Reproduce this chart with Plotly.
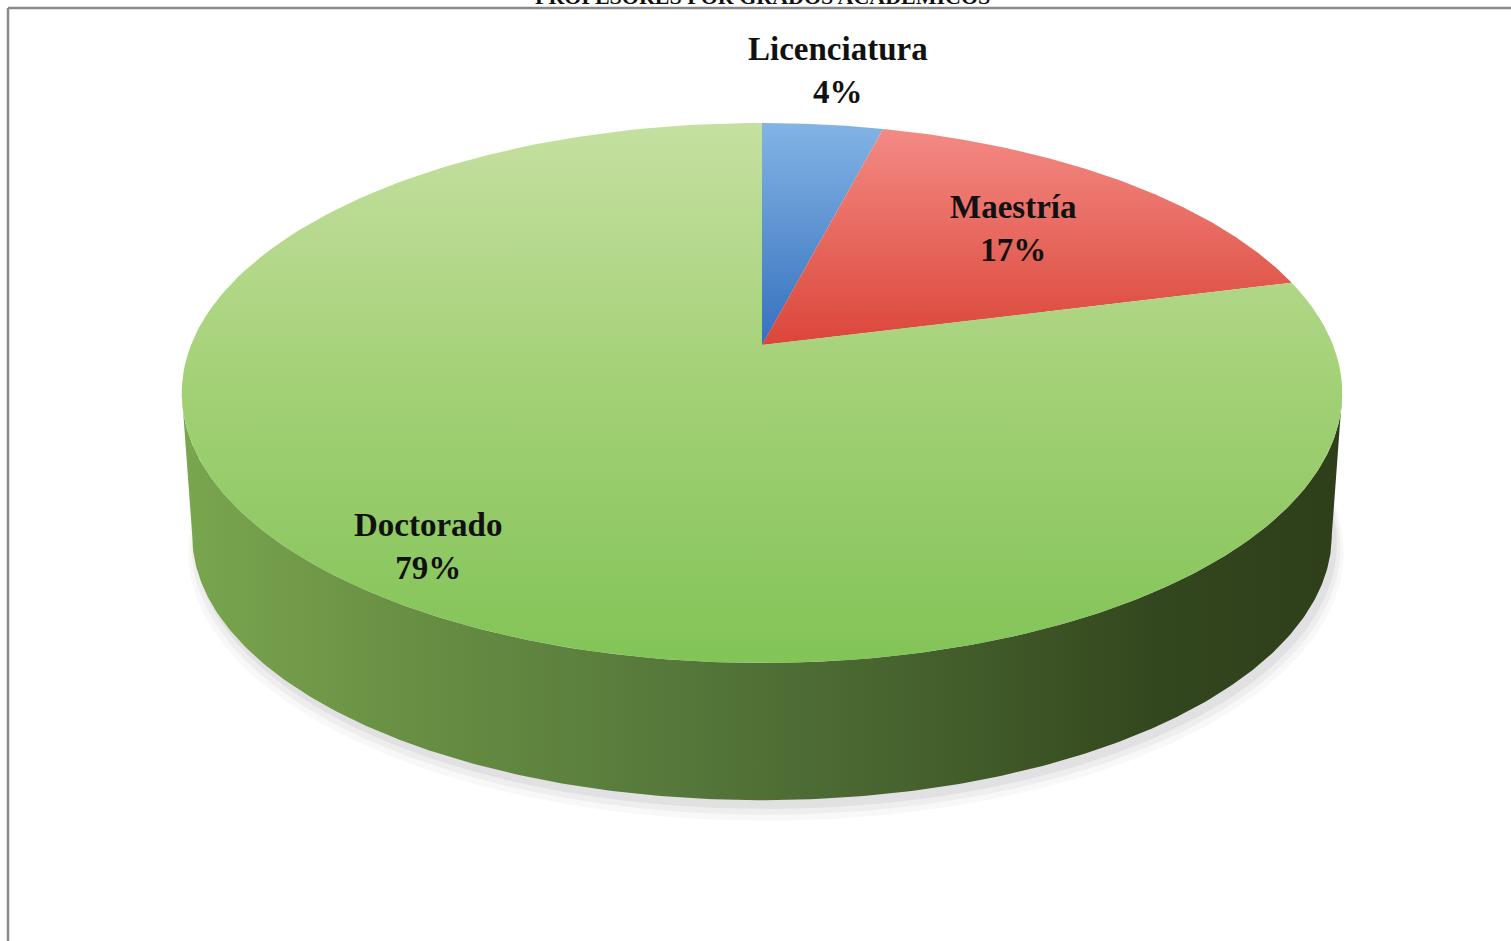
import numpy as np
import plotly.graph_objects as go

# ---- data ----
categories = ["Licenciatura", "Maestría", "Doctorado"]
percent = [4, 17, 79]
title_text = "PROFESORES POR GRADOS ACADÉMICOS"

# ---- styles / geometry (not data) ----
W, H = 1511, 941
CX, CY = 762, 345          # pie apex on screen (pixels)
A, B, K = 571, 261.5, 0.1777  # perspective ellipse parameters
DEPTH = 143                 # cylinder thickness offset
SHRINK = 0.982              # bottom disk slightly smaller (perspective)
face_colors = [
    [[0, "#82B4E4"], [1, "#3670BE"]],
    [[0, "#F38A84"], [1, "#DB4639"]],
    [[0, "#C5E0A0"], [0.5, "#A2D075"], [1, "#82C457"]],
]
side_scale = [[0, "#7AA64F"], [0.2, "#688F43"], [0.45, "#54763A"],
              [0.65, "#45602C"], [0.85, "#33471E"], [1, "#2E3F1A"]]
label_pos = {"Licenciatura": (838, 70), "Maestría": (1013, 228), "Doctorado": (428, 546)}
FONT = "Liberation Serif"


def proj(theta, r=1.0, a=A, b=B, cx=CX, cy=CY):
    X = r * np.sin(theta)
    Y = r * np.cos(theta)
    d = 1 + K * Y
    return cx + a * X / d, cy - b * Y / d


fig = go.Figure()

# shadow beneath the pie
theta_all = np.linspace(0, 2 * np.pi, 400)
for i, (grow, dy, op) in enumerate([(1.014, 16, 0.035), (1.008, 12, 0.05), (1.002, 8, 0.07)]):
    sx, sy = proj(theta_all, a=A * SHRINK * grow, b=B * SHRINK * grow, cy=CY + DEPTH + dy)
    sx = sx + 4
    fig.add_trace(go.Scatter(x=sx, y=sy, mode="lines", fill="toself",
                             fillcolor=f"rgba(60,60,70,{op})",
                             line=dict(width=0, color="rgba(0,0,0,0)"),
                             hoverinfo="skip", showlegend=False))

# side wall (visible front part)
t_r = np.arccos(-K)
t_side = np.linspace(t_r, 2 * np.pi - t_r, 300)
tx, ty = proj(t_side)
bx, by = proj(t_side[::-1], a=A * SHRINK, b=B * SHRINK, cy=CY + DEPTH)
fig.add_trace(go.Scatter(x=np.concatenate([tx, bx]), y=np.concatenate([ty, by]),
                         mode="lines", fill="toself",
                         fillgradient=dict(type="horizontal", colorscale=side_scale,
                                           start=CX - A * 1.02, stop=CX + A * 1.0),
                         line=dict(width=0, color="rgba(0,0,0,0)"),
                         hoverinfo="skip", showlegend=False))

# top face slices
fr = np.array(percent, dtype=float) / sum(percent)
cum = np.concatenate([[0], np.cumsum(fr)])
for i, cat in enumerate(categories):
    t = np.linspace(2 * np.pi * cum[i], 2 * np.pi * cum[i + 1], 200)
    ax_, ay_ = proj(t)
    xs = np.concatenate([[CX], ax_, [CX]])
    ys = np.concatenate([[CY], ay_, [CY]])
    fig.add_trace(go.Scatter(x=xs, y=ys, mode="lines", fill="toself",
                             fillgradient=dict(type="vertical", colorscale=face_colors[i],
                                               start=float(ys.min()), stop=float(ys.max())),
                             line=dict(width=0, color="rgba(0,0,0,0)"),
                             hoverinfo="skip", showlegend=False))
    lx, ly = label_pos[cat]
    fig.add_annotation(x=lx, y=ly, xref="x", yref="y", showarrow=False,
                       text=f"{cat}<br>{percent[i]}%",
                       font=dict(family=FONT, size=33, color="#111111", weight="bold"))

# title (cut off at the top edge as in the source)
fig.add_annotation(x=CX, y=11, xref="x", yref="y", yanchor="bottom", showarrow=False,
                   text=title_text, font=dict(family=FONT, size=22, color="#111111", weight="bold"))

# frame
fig.add_shape(type="line", x0=8, x1=W, y0=8, y1=8, xref="x", yref="y",
              line=dict(color="#8A8A8A", width=2.5))
fig.add_shape(type="line", x0=8, x1=8, y0=8, y1=H, xref="x", yref="y",
              line=dict(color="#8A8A8A", width=2.5))

fig.update_layout(
    width=W, height=H, margin=dict(l=0, r=0, t=0, b=0),
    paper_bgcolor="white", plot_bgcolor="white",
    xaxis=dict(range=[0, W], visible=False, fixedrange=True),
    yaxis=dict(range=[H, 0], visible=False, fixedrange=True),
    showlegend=False,
)

fig.write_html("out.html", config={"displayModeBar": False},
               post_script="document.body.style.margin='0';document.body.style.overflow='hidden';")
